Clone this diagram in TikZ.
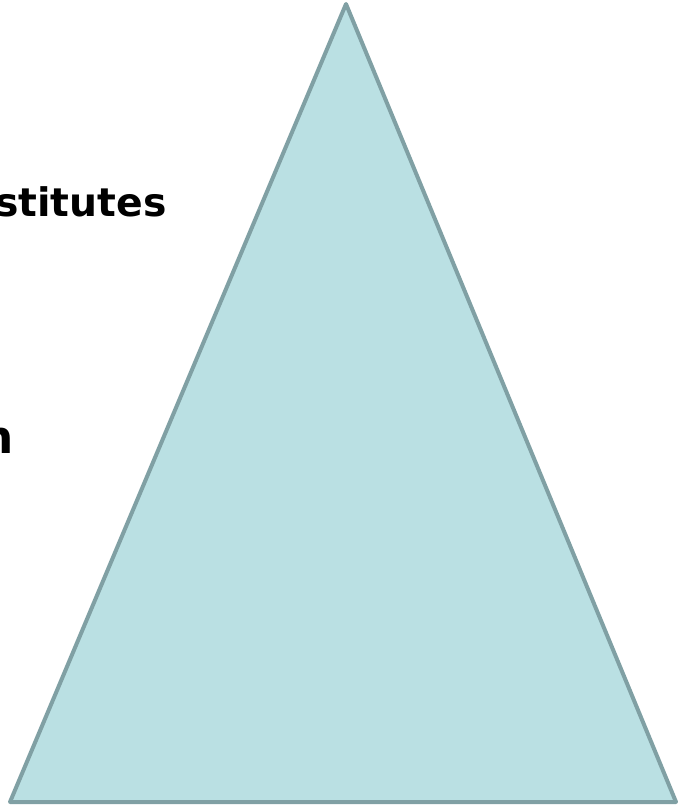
\documentclass[tikz,border=0pt]{standalone}
\usepackage{fontspec}
\setmainfont{DejaVu Sans}
\usetikzlibrary{positioning}

\tikzset{every picture/.style={line width=0.75pt}}

\begin{document}
\begin{tikzpicture}[x=0.75pt,y=0.75pt,yscale=-1,xscale=1]
	\useasboundingbox (0,0) rectangle (679,809); %set diagram size

	%Shape: Triangle [id:dp2981] 
	\draw  [draw={rgb, 255:red, 128; green, 160; blue, 164 }  ,fill={rgb, 255:red, 186; green, 224; blue, 227 }  ,fill opacity=1 ,line width=3pt ,line join=round ] (346,4) -- (676,802) -- (10,802) -- cycle ;

	% Text Node
	\draw (167,217) node [anchor=base east, inner sep=0pt] (stit) {\fontsize{29.5}{33}\selectfont\bfseries stitutes};
	% Text Node
	\draw (14,453) node [anchor=base east, inner sep=0pt] (n) {\fontsize{34}{38}\selectfont\bfseries n};

\end{tikzpicture}
\end{document}
